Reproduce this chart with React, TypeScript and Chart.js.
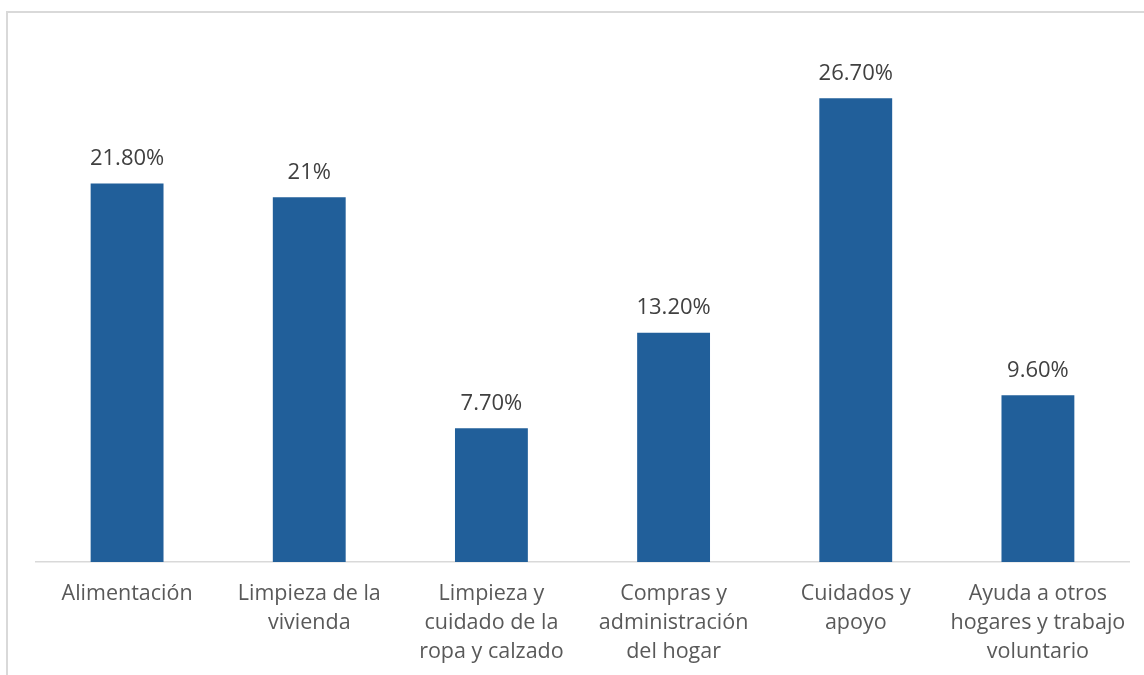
import React, { useEffect, useRef } from "react";
import { Chart, registerables } from "chart.js";

Chart.register(...registerables);

const categories: string[][] = [
  ["Alimentación"],
  ["Limpieza de la", "vivienda"],
  ["Limpieza y", "cuidado de la", "ropa y calzado"],
  ["Compras y", "administración", "del hogar"],
  ["Cuidados y", "apoyo"],
  ["Ayuda a otros", "hogares y trabajo", "voluntario"],
];
const values: number[] = [21.8, 21, 7.7, 13.2, 26.7, 9.6];
const valueLabels: string[] = ["21.80%", "21%", "7.70%", "13.20%", "26.70%", "9.60%"];

const FONT = "'Open Sans', 'Noto Sans', sans-serif";

const dataLabelPlugin = {
  id: "dataLabels",
  afterDatasetsDraw(chart: any) {
    const ctx = chart.ctx;
    const meta = chart.getDatasetMeta(0);
    ctx.save();
    ctx.font = `22px ${FONT}`;
    ctx.fillStyle = "#404040";
    ctx.textAlign = "center";
    ctx.textBaseline = "middle";
    meta.data.forEach((bar: any, i: number) => {
      ctx.fillText(valueLabels[i], bar.x, bar.y - 25);
    });
    ctx.restore();
  },
};

export default function App() {
  const ref = useRef<HTMLCanvasElement>(null);
  useEffect(() => {
    if (!ref.current) return;
    const chart = new Chart(ref.current, {
      type: "bar",
      data: {
        labels: categories,
        datasets: [
          {
            data: values,
            backgroundColor: "#215F9A",
            barPercentage: 0.8,
            categoryPercentage: 0.5,
          },
        ],
      },
      options: {
        animation: false,
        responsive: false,
        maintainAspectRatio: false,
        layout: { padding: { left: 36, right: 15, top: 41, bottom: 10 } },
        plugins: { legend: { display: false }, tooltip: { enabled: false } },
        scales: {
          x: {
            grid: { display: false, drawTicks: false },
            border: { display: true, color: "#d9d9d9", width: 1.5 },
            ticks: {
              color: "#595959",
              font: { family: FONT, size: 21.5, lineHeight: 1.35 },
              padding: 17,
              maxRotation: 0,
              autoSkip: false,
            },
            afterFit: (scale: any) => {
              scale.height = 103;
            },
          },
          y: {
            display: false,
            min: 0,
            max: 30,
          },
        },
      },
      plugins: [dataLabelPlugin],
    });
    return () => chart.destroy();
  }, []);
  return (
    <div style={{ position: "fixed", left: 0, top: 0, width: 1144, height: 675, background: "#fff", overflow: "hidden" }}>
      <div
        style={{
          position: "absolute",
          left: 6,
          top: 11,
          width: 1200,
          height: 700,
          border: "2px solid #d9d9d9",
          boxSizing: "border-box",
        }}
      />
      <canvas ref={ref} width={1144} height={675} style={{ position: "absolute", left: 0, top: 0 }} />
    </div>
  );
}
